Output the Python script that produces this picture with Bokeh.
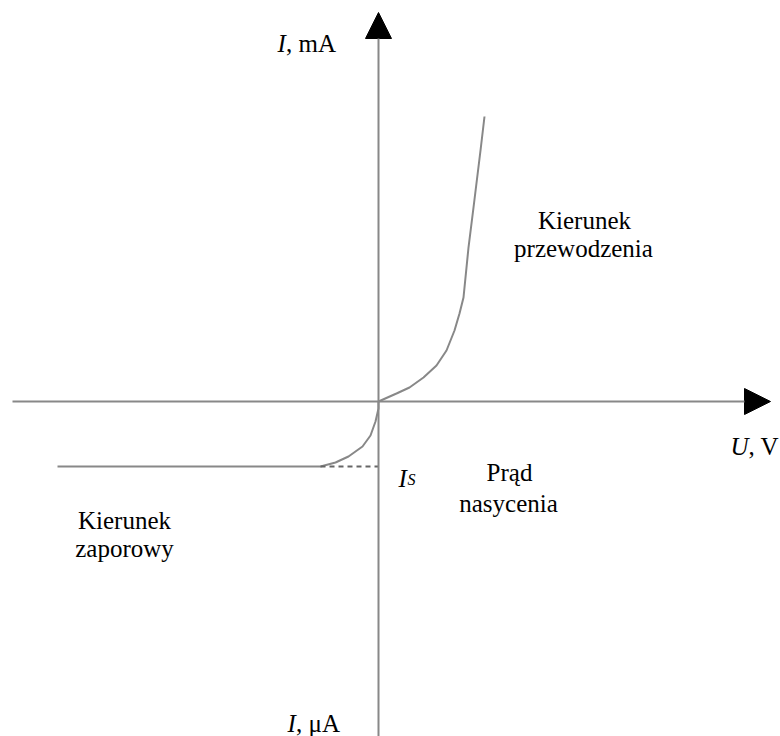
from bokeh.plotting import figure
from bokeh.models import Range1d, Arrow, NormalHead, ColumnDataSource
from bokeh.core.properties import value
from bokeh.embed import file_html
from bokeh.resources import INLINE

# Sketch of a diode I-U characteristic (arbitrary units, origin at axes crossing)
u_forward = [0, 18, 31, 45, 58, 68, 76, 81, 85, 90, 95, 102, 106]
i_forward = [0, 8, 14, 24, 36, 51, 71, 88, 104, 154, 194, 251, 285]

u_reverse = [0, 0, -3, -8, -16, -30, -43, -58, -321]
i_reverse = [0, -7, -20, -34, -45, -55, -61, -65, -65]

i_sat = -65
u_sat_knee = -58

x_axis_span = [-366, 392]
y_axis_span = [-345, 389]

labels_center = ["Kierunek", "przewodzenia", "Prąd", "nasycenia", "Kierunek", "zaporowy"]
labels_cx = [206, 205, 131, 130, -254, -254]
labels_cy = [181, 153, -71, -102, -119, -147]

FONT = "Liberation Serif"
GRAY = "#888888"
FS = "25px"

p = figure(width=780, height=736, output_backend="svg", toolbar_location=None,
           x_range=Range1d(-378, 402), y_range=Range1d(-335, 401),
           min_border=0, min_border_left=0, min_border_right=0,
           min_border_top=0, min_border_bottom=0)
p.axis.visible = False
p.grid.visible = False
p.outline_line_color = None
p.background_fill_color = "white"
p.border_fill_color = "white"

# axes with arrow heads
p.add_layout(Arrow(end=NormalHead(size=26, fill_color="black", line_color="black"),
                   x_start=x_axis_span[0], y_start=0, x_end=x_axis_span[1], y_end=0,
                   line_color=GRAY, line_width=2))
p.add_layout(Arrow(end=NormalHead(size=26, fill_color="black", line_color="black"),
                   x_start=0, y_start=y_axis_span[0], x_end=0, y_end=y_axis_span[1],
                   line_color=GRAY, line_width=2))

# curves
p.line(u_forward, i_forward, line_color=GRAY, line_width=2)
p.line(u_reverse, i_reverse, line_color=GRAY, line_width=2)
p.line([u_sat_knee, 0], [i_sat, i_sat], line_color="#666666", line_width=1.8, line_dash="5 4")

# centered annotation texts
src = ColumnDataSource(dict(x=labels_cx, y=labels_cy, t=labels_center))
p.text(x="x", y="y", text="t", source=src, text_font=value(FONT), text_font_size=FS,
       text_align="center", text_baseline="alphabetic", text_color="black")

def label(x, y, txt, style="normal", size=FS, align="left"):
    p.text(x=[x], y=[y], text=[txt], text_font=value(FONT), text_font_size=size,
           text_font_style=style, text_align=align, text_baseline="alphabetic",
           text_color="black")

# axis titles
label(-101, 358, "I", "italic")
label(-92.5, 358, ", mA")
label(352, -45, "U", "italic")
label(370, -45, ", V")
label(-91, -322, "I", "italic")
label(-82.5, -322, ", μA")
# saturation current symbol
label(20, -77, "I", "italic")
label(29, -78, "S", "italic", size="16px")

open("out.html", "w").write(file_html(p, INLINE))
